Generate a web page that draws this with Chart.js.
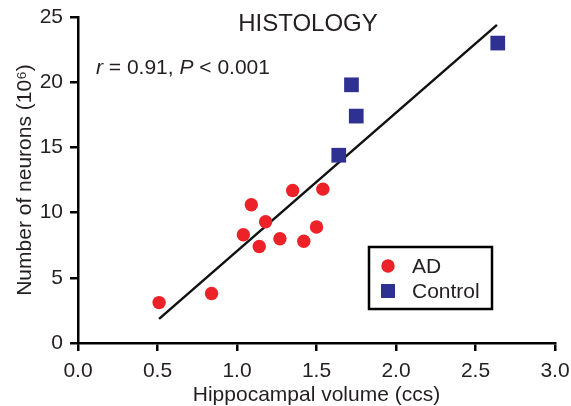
<!DOCTYPE html>
<html>
<head>
<meta charset="utf-8">
<script src="https://cdn.jsdelivr.net/npm/chart.js@4.4.1/dist/chart.umd.min.js"></script>
<style>
  html, body { margin: 0; padding: 0; background: #fff; }
  #wrap { width: 571px; height: 406px; }
</style>
</head>
<body>
<div id="wrap"><canvas id="histChart" width="571" height="406"></canvas></div>
<script>
// Values
const adVolume = [0.51, 0.84, 1.04, 1.09, 1.14, 1.18, 1.27, 1.35, 1.42, 1.50, 1.54];
const adNeurons = [3.1, 3.8, 8.3, 10.6, 7.4, 9.3, 8.0, 11.7, 7.8, 8.9, 11.8];
const ctrlVolume = [1.64, 1.72, 1.75, 2.64];
const ctrlNeurons = [14.4, 19.8, 17.4, 23.0];
// regression line endpoints
const fitVolume = [0.51, 2.635];
const fitNeurons = [1.85, 24.4];

const xTicks = [0, 0.5, 1.0, 1.5, 2.0, 2.5, 3.0];
const yTicks = [0, 5, 10, 15, 20, 25];

const FONT = '"Liberation Sans", Arial, Helvetica, sans-serif';
const INK = '#231f20';
const RED = '#ed2128';
const BLUE = '#2e3192';

const toPoints = (xs, ys) => xs.map((x, i) => ({ x: x, y: ys[i] }));

// Title, r/P note and boxed legend drawn over the plot area
const overlayPlugin = {
  id: 'overlay',
  afterDraw(chart) {
    const ctx = chart.ctx;
    const area = chart.chartArea;
    ctx.save();
    ctx.fillStyle = INK;
    ctx.textBaseline = 'middle';

    // title
    ctx.font = '24px ' + FONT;
    ctx.textAlign = 'center';
    ctx.fillText('HISTOLOGY', area.left + 230, area.top + 7);

    // statistics note, r and P in italics
    ctx.textAlign = 'left';
    const parts = [
      ['italic', 'r'], ['normal', ' = 0.91, '], ['italic', 'P'], ['normal', ' < 0.001']
    ];
    let x = area.left + 18;
    const y = area.top + 51;
    parts.forEach(p => {
      ctx.font = p[0] + ' 21px ' + FONT;
      ctx.fillText(p[1], x, y);
      x += ctx.measureText(p[1]).width;
    });

    // legend box
    const bx = area.left + 291, by = area.top + 230, bw = 123, bh = 62;
    ctx.lineWidth = 2.5;
    ctx.strokeStyle = '#000';
    ctx.strokeRect(bx, by, bw, bh);
    ctx.font = '21px ' + FONT;
    chart.data.datasets.forEach((ds, i) => {
      if (ds.type === 'line') return;
      const cy = by + 19 + i * 25;
      const cx = bx + 19;
      ctx.fillStyle = ds.backgroundColor;
      if (ds.pointStyle === 'rect') {
        ctx.fillRect(cx - 7, cy - 7, 14, 14);
      } else {
        ctx.beginPath();
        ctx.arc(cx, cy, 6.7, 0, Math.PI * 2);
        ctx.fill();
      }
      ctx.fillStyle = INK;
      ctx.fillText(ds.label, bx + 43, cy + 1);
    });
    ctx.restore();
  }
};

const histChart = new Chart(document.getElementById('histChart').getContext('2d'), {
  type: 'scatter',
  data: {
    datasets: [
      {
        label: 'AD',
        data: toPoints(adVolume, adNeurons),
        pointStyle: 'circle',
        pointRadius: 6.7,
        backgroundColor: RED,
        borderColor: RED,
        borderWidth: 0
      },
      {
        label: 'Control',
        data: toPoints(ctrlVolume, ctrlNeurons),
        pointStyle: 'rect',
        pointRadius: 10.4,
        backgroundColor: BLUE,
        borderColor: BLUE,
        borderWidth: 0
      },
      {
        type: 'line',
        label: 'fit',
        data: toPoints(fitVolume, fitNeurons),
        borderColor: '#111',
        borderWidth: 2.5,
        pointRadius: 0,
        fill: false
      }
    ]
  },
  options: {
    responsive: false,
    animation: false,
    devicePixelRatio: 1,
    layout: { padding: { left: 0, top: 17, right: 16, bottom: 0 } },
    plugins: {
      legend: { display: false },
      tooltip: { enabled: false },
      title: { display: false }
    },
    scales: {
      x: {
        type: 'linear',
        min: 0,
        max: 3,
        afterFit(scale) {
          scale.height = 63;
          scale.paddingLeft = 0;
          scale.paddingRight = 0;
        },
        afterBuildTicks(scale) { scale.ticks = xTicks.map(v => ({ value: v })); },
        border: { display: true, color: '#000', width: 2.5 },
        grid: { drawOnChartArea: false, drawTicks: true, tickLength: 8, color: '#000', lineWidth: 2.5 },
        ticks: {
          color: INK,
          padding: 8,
          maxRotation: 0,
          font: { family: FONT, size: 21 },
          callback: v => Number(v).toFixed(1)
        },
        title: {
          display: true,
          text: 'Hippocampal volume (ccs)',
          color: INK,
          font: { family: FONT, size: 21, lineHeight: 1 },
          padding: { top: 0, bottom: 0 }
        }
      },
      y: {
        type: 'linear',
        min: 0,
        max: 25,
        afterFit(scale) {
          scale.width = 78;
          scale.paddingTop = 0;
          scale.paddingBottom = 0;
        },
        afterBuildTicks(scale) { scale.ticks = yTicks.map(v => ({ value: v })); },
        border: { display: true, color: '#000', width: 2.5 },
        grid: { drawOnChartArea: false, drawTicks: true, tickLength: 8, color: '#000', lineWidth: 2.5 },
        ticks: {
          color: INK,
          padding: 7,
          font: { family: FONT, size: 21 }
        },
        title: {
          display: true,
          text: 'Number of neurons (10\u2076)',
          color: INK,
          font: { family: FONT, size: 21, lineHeight: 1.2 },
          padding: { top: 13, bottom: 0 }
        }
      }
    }
  },
  plugins: [overlayPlugin]
});
</script>
</body>
</html>
